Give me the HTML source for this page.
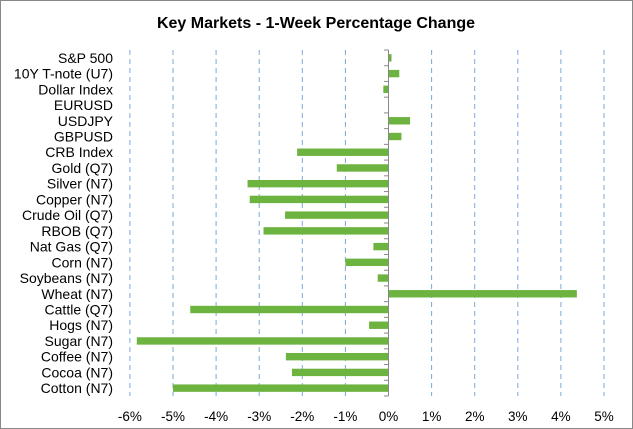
<!DOCTYPE html>
<html><head><meta charset="utf-8"><style>
html,body{margin:0;padding:0;background:#fff;}
svg{display:block;font-family:"Liberation Sans",Calibri,sans-serif;}
</style></head><body>
<svg width="633" height="429" viewBox="0 0 633 429" xmlns="http://www.w3.org/2000/svg">
<rect x="0.5" y="0.5" width="632" height="428" fill="#fff" stroke="#888"/>
<text x="316" y="28" text-anchor="middle" font-size="16" font-weight="bold" fill="#000">Key Markets - 1-Week Percentage Change</text>
<g id="grid" stroke="#7ea6d8" stroke-width="1" stroke-dasharray="5,4"></g>
<g id="bars" fill="#6db33f"></g>
<g id="labels" font-size="14" fill="#000" text-anchor="end"></g>
<g id="xl" font-size="13.5" fill="#000" text-anchor="middle"></g>
<g id="ax" stroke="#888" stroke-width="1"></g>
</svg>
<script>
(function(){
var ns="http://www.w3.org/2000/svg";
function el(p,t,a,txt){var e=document.createElementNS(ns,t);for(var k in a)e.setAttribute(k,a[k]);if(txt!==undefined)e.textContent=txt;document.getElementById(p).appendChild(e);}
var x0=388.5,s=43.1,yTop=50,yBot=396,n=22,rh=(yBot-yTop)/n;
for(var v=-6;v<=5;v++){var x=x0+v*s;if(v!==0)el("grid","line",{x1:x,x2:x,y1:yTop,y2:yBot});
el("xl","text",{x:x,y:421},(v<0?"-":"")+Math.abs(v)+"%");}
var d=[["S&P 500",0.07],["10Y T-note (U7)",0.25],["Dollar Index",-0.12],["EURUSD",0],["USDJPY",0.5],["GBPUSD",0.3],["CRB Index",-2.12],["Gold (Q7)",-1.2],["Silver (N7)",-3.27],["Copper (N7)",-3.22],["Crude Oil (Q7)",-2.4],["RBOB (Q7)",-2.9],["Nat Gas (Q7)",-0.35],["Corn (N7)",-1.0],["Soybeans (N7)",-0.25],["Wheat (N7)",4.37],["Cattle (Q7)",-4.6],["Hogs (N7)",-0.45],["Sugar (N7)",-5.84],["Coffee (N7)",-2.38],["Cocoa (N7)",-2.24],["Cotton (N7)",-5.0]];
d.forEach(function(r,i){var c=yTop+rh*(i+0.5);var w=r[1]*s;
el("bars","rect",{x:w<0?x0+w:x0,y:c-3.7,width:Math.abs(w),height:7.4});
el("labels","text",{x:113,y:c+5},r[0]);
el("ax","line",{x1:384,x2:x0,y1:yTop+rh*i,y2:yTop+rh*i});});
el("ax","line",{x1:384,x2:x0,y1:yBot,y2:yBot});
el("ax","line",{x1:x0,x2:x0,y1:yTop,y2:yBot});
})();
</script>
</body></html>
